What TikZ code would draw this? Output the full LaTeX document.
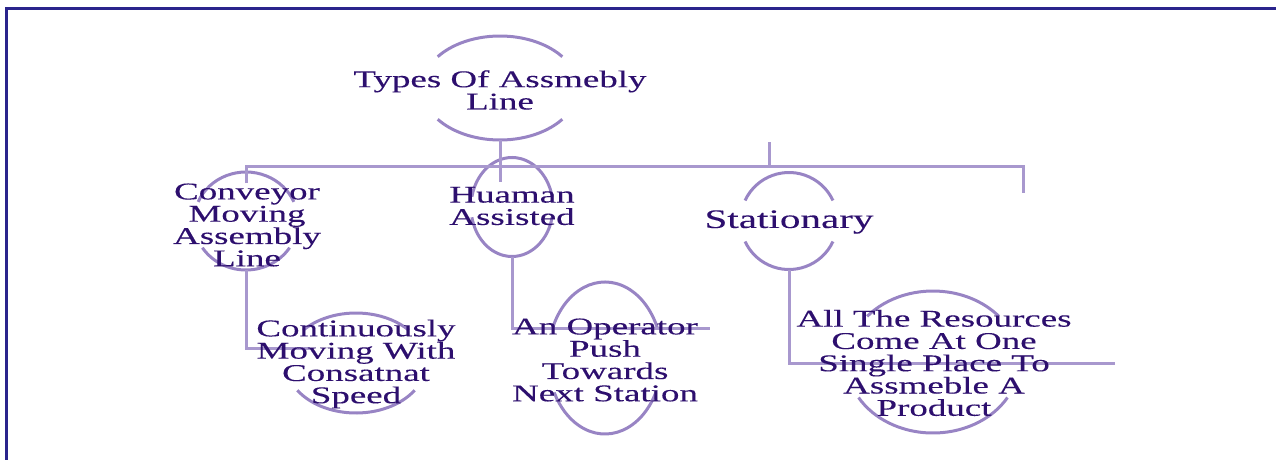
\documentclass[tikz,border=0pt]{standalone}
\usepackage{fontspec}
\usetikzlibrary{calc}
\newfontfamily\diafont[FakeStretch=1.54,FakeBold=0.2]{Liberation Serif}
\definecolor{txtc}{RGB}{45,15,110}
\definecolor{linec}{RGB}{168,152,206}
\definecolor{arcc}{RGB}{152,132,196}
\definecolor{framec}{RGB}{42,36,140}
\tikzset{
  conn/.style={draw=linec, line width=3pt},
  arcline/.style={draw=arcc, line width=3pt},
  lbl/.style={text=txtc, align=center, inner sep=0pt, font=\diafont\fontsize{24}{22.3}\selectfont},
  biglbl/.style={lbl, font=\diafont\fontsize{26.7}{26}\selectfont}
}
% #1 node, #2 rx, #3 ry, #4 top gap angle, #5 bottom gap angle
\newcommand\ovalarcs[5]{%
  \draw[arcline] ([shift={(180+#4:#2 and #3)}]#1.center) arc[start angle=180+#4, end angle=360-#4, x radius=#2, y radius=#3];
  \draw[arcline] ([shift={(#5:#2 and #3)}]#1.center) arc[start angle=#5, end angle=180-#5, x radius=#2, y radius=#3];
}
\begin{document}
\begin{tikzpicture}[x=1pt,y=-1pt]
\path[use as bounding box] (0,0) rectangle (1276,460);
\clip (0,0) rectangle (1276,460);
\draw[framec, line width=2.5pt] (6.5,8.5) rectangle (1300,480);

% ellipse centres (named coordinates)
\coordinate (Te) at (500,88);
\coordinate (CVe) at (246,221);
\coordinate (HAe) at (512,207);
\coordinate (STe) at (789,221);
\coordinate (CMe) at (356,363);
\coordinate (OPe) at (605,358);
\coordinate (RSe) at (933,362);
\coordinate (busR) at (1023,166);
\coordinate (busRdrop) at (1023,193);

% ellipse arcs
\ovalarcs{Te}{78}{52}{37}{37}
\ovalarcs{CVe}{52}{49}{23}{33}
\ovalarcs{HAe}{41}{49.5}{12}{12}
\ovalarcs{STe}{48.5}{48.5}{25}{25}
\ovalarcs{CMe}{70}{50}{41}{33}
\ovalarcs{OPe}{57}{76}{23}{27}
\ovalarcs{RSe}{86}{71}{40}{30}

% connectors
\draw[conn] ($(Te)+(0,52)$) -- ($(Te)+(0,94)$);
\draw[conn] ($(CVe)+(0,-38)$) |- (busR) -- (busRdrop);
\draw[conn] ($(STe)+(-20,-79)$) -- ($(STe)+(-20,-55)$);
\draw[conn] ($(CVe)+(0,49)$) |- ($(CMe)+(-46,-15)$);
\draw[conn] ($(HAe)+(0,49.5)$) |- ($(OPe)+(105,-30)$);
\draw[conn] ($(STe)+(0,48.5)$) |- ($(RSe)+(182,1)$);

% labels
\node[lbl] (T) at (500,90) {Types Of Assmebly\\Line};
\node[lbl] (CV) at (247,225) {Conveyor\\Moving\\Assembly\\Line};
\node[lbl] (HA) at (512,206) {Huaman\\Assisted};
\node[biglbl] (ST) at (789,222) {Stationary};
\node[lbl] (CM) at (356,364) {Continuously\\Moving With\\Consatnat\\Speed};
\node[lbl] (OP) at (605,360) {An Operator\\Push\\Towards\\Next Station};
\node[lbl] (RS) at (934,363) {All The Resources\\Come At One\\Single Place To\\Assmeble A\\Product};
\end{tikzpicture}
\end{document}
